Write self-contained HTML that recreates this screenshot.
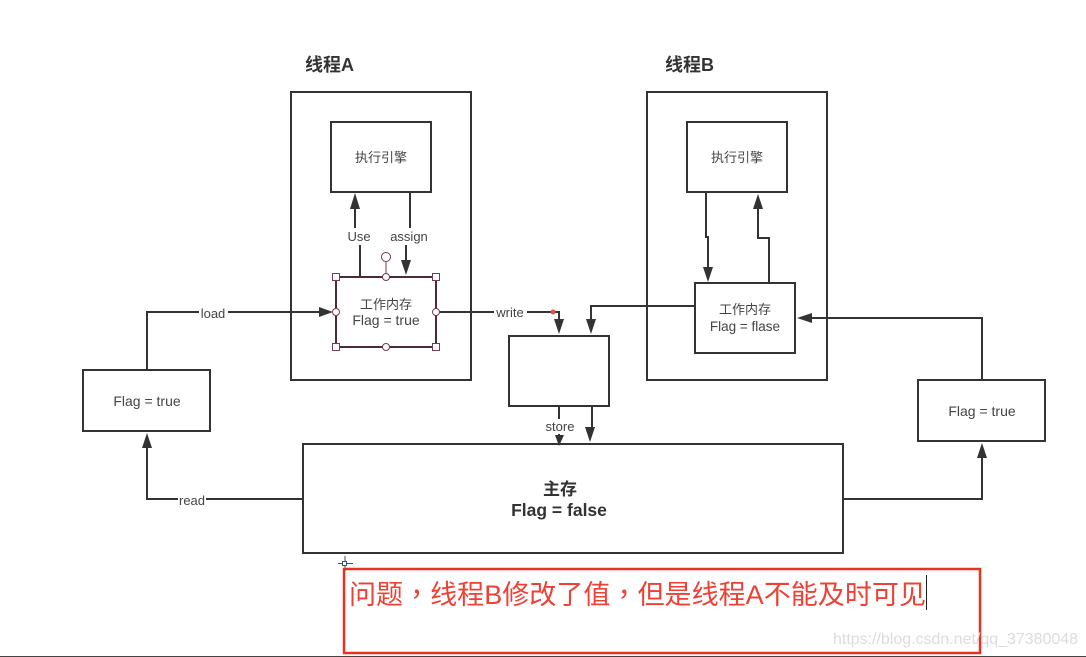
<!DOCTYPE html>
<html>
<head>
<meta charset="utf-8">
<style>
html,body{margin:0;padding:0;background:#fff;width:1086px;height:657px;overflow:hidden}
svg{display:block}
text{font-family:"Liberation Sans","Noto Sans CJK SC",sans-serif;fill:#444;font-size:13px;text-anchor:middle}
.b{fill:none;stroke:#333;stroke-width:2}
.l{fill:none;stroke:#333;stroke-width:2}
.a{fill:#333;stroke:none}
.h{fill:#fff;stroke:#7a3a4a;stroke-width:1}
.t{font-size:18px;font-weight:bold;fill:#333;text-anchor:start}
.lb{fill:#fff}
.f{font-size:14px}
.m{font-weight:bold;fill:#333}
</style>
</head>
<body>
<svg width="1086" height="657" viewBox="0 0 1086 657" xmlns="http://www.w3.org/2000/svg">
<rect width="1086" height="657" fill="#fff"/>
<text class="t" x="305" y="71">线程A</text>
<text class="t" x="665" y="71">线程B</text>

<rect class="b" x="291" y="92" width="180" height="288"/>
<rect class="b" x="647" y="92" width="180" height="288"/>
<rect class="b" x="331" y="122" width="100" height="70"/>
<rect class="b" x="687" y="122" width="100" height="70"/>
<rect class="b" x="695" y="283" width="100" height="70"/>
<rect class="b" x="509" y="336" width="100" height="70"/>
<rect class="b" x="303" y="444" width="540" height="109"/>
<rect class="b" x="83" y="370" width="127" height="61"/>
<rect class="b" x="918" y="380" width="127" height="61"/>

<!-- connectors -->
<path class="l" d="M147 370V312H325"/>
<path class="a" d="M333 312L319 307V317Z"/>
<rect class="lb" x="199" y="304" width="29" height="16"/>
<text x="213" y="318">load</text>

<path class="l" d="M303 499H147V440"/>
<path class="a" d="M147 433L142 448H152Z"/>
<rect class="lb" x="178" y="492" width="28" height="16"/>
<text x="192" y="505">read</text>

<path class="l" d="M843 499H982V450"/>
<path class="a" d="M982 443L977 458H987Z"/>
<path class="l" d="M982 380V318H810"/>
<path class="a" d="M797 318L812 313V323Z"/>

<path class="l" d="M360 277V235H355V205"/>
<path class="a" d="M355 193L350 209H360Z"/>
<rect class="lb" x="346" y="228" width="26" height="17"/>
<text x="359" y="241">Use</text>

<path class="l" d="M410 192V235H406V262"/>
<path class="a" d="M406 275L401 260H411Z"/>
<rect class="lb" x="389" y="228" width="40" height="17"/>
<text x="409" y="241">assign</text>

<path class="l" d="M436 312H559V322"/>
<path class="a" d="M559 334L554 319H564Z"/>
<rect class="lb" x="494" y="305" width="33" height="16"/>
<text x="510" y="317">write</text>
<circle cx="553" cy="312" r="2.500" fill="#d9534f"/>

<path class="l" d="M695 306H591V322"/>
<path class="a" d="M591 334L586 319H596Z"/>

<path class="l" d="M559 406V436"/>
<path class="a" d="M559 446L555 435H564Z"/>
<rect class="lb" x="544" y="419" width="33" height="15"/>
<text x="560" y="431">store</text>

<path class="l" d="M592 406V430"/>
<path class="a" d="M590 442L585 427H595Z"/>

<path class="l" d="M706 192V237H708V270"/>
<path class="a" d="M708 282L703 267H713Z"/>
<path class="l" d="M769 283V238H758V205"/>
<path class="a" d="M758 194L753 209H763Z"/>

<!-- node text -->
<text x="381" y="162">执行引擎</text>
<text x="737" y="162">执行引擎</text>
<text x="386" y="309">工作内存</text>
<text class="f" x="386" y="325">Flag = true</text>
<text x="745" y="314">工作内存</text>
<text x="745" y="331" style="font-size:13.500px">Flag = flase</text>
<text class="f" x="147" y="406">Flag = true</text>
<text class="f" x="982" y="416">Flag = true</text>
<text class="m" x="560" y="495" style="font-size:17px">主存</text>
<text class="m" x="559" y="516" style="font-size:17.500px">Flag = false</text>

<!-- selected node -->
<rect x="336" y="277" width="100" height="70" fill="none" stroke="#4a2a34" stroke-width="2"/>
<path d="M386 262V277" stroke="#7a3a4a" stroke-width="1"/>
<circle class="h" cx="386" cy="257" r="4.500"/>
<circle class="h" cx="386" cy="277" r="3.500"/>
<circle class="h" cx="386" cy="347" r="3.500"/>
<circle class="h" cx="336" cy="312" r="3.500"/>
<circle class="h" cx="436" cy="312" r="3.500"/>
<rect class="h" x="332.500" y="273.500" width="7" height="7"/>
<rect class="h" x="432.500" y="273.500" width="7" height="7"/>
<rect class="h" x="332.500" y="343.500" width="7" height="7"/>
<rect class="h" x="432.500" y="343.500" width="7" height="7"/>

<!-- annotation -->
<path d="M345 556V571M338 563.500H353" stroke="#2a5a70" stroke-width="1"/>
<rect x="342.500" y="561.500" width="4" height="4" fill="#fff" stroke="#2a5a70" stroke-width="1"/>
<rect x="344" y="569" width="636" height="84" fill="none" stroke="#e8321f" stroke-width="2.500"/>
<text x="349" y="604" textLength="577" lengthAdjust="spacingAndGlyphs" style="font-size:27px;fill:#ee4035;text-anchor:start">问题<tspan style="font-family:'Noto Sans CJK TC',sans-serif">，</tspan>线程B修改了值<tspan style="font-family:'Noto Sans CJK TC',sans-serif">，</tspan>但是线程A不能及时可见</text>
<path d="M926.500 575V610" stroke="#222" stroke-width="1"/>
<text x="1078" y="644" style="font-size:16px;fill:#dcdcdc;text-anchor:end" textLength="245" lengthAdjust="spacingAndGlyphs">https://blog.csdn.net/qq_37380048</text>
<rect x="0" y="656" width="1086" height="1" fill="#444"/>
</svg>
</body>
</html>
